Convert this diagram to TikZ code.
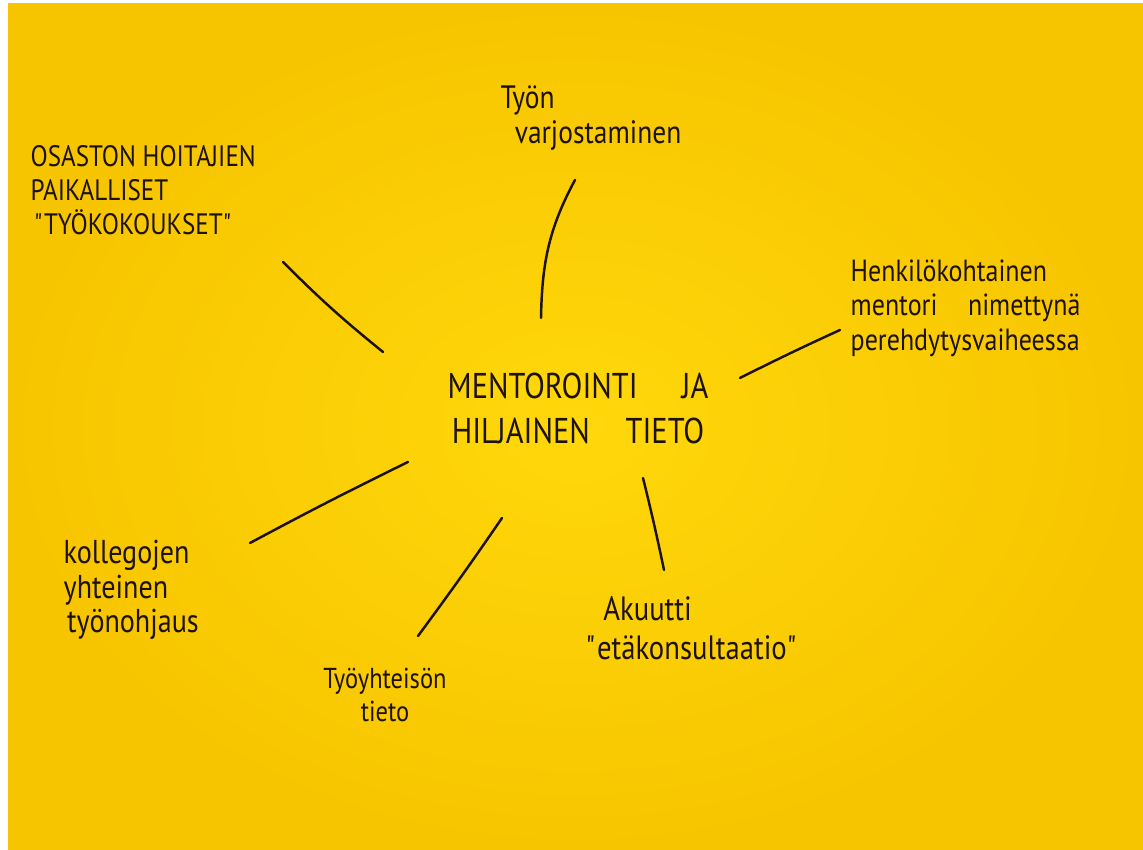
\documentclass[tikz,border=0pt]{standalone}
\usepackage{fontspec}
\setmainfont[FakeStretch=0.85]{PT Sans}
\usepackage{tikz}
\definecolor{paperhi}{HTML}{FFD80A}
\definecolor{paperlo}{HTML}{F7C500}
\definecolor{ink}{HTML}{1E1208}

\begin{document}
\begin{tikzpicture}[
    hub/.style={text=ink, align=center, font=\fontsize{10.2}{12.8}\selectfont},
    leaf/.style={text=ink, align=left, inner sep=0pt, font=\fontsize{9.2}{10.2}\selectfont},
    link/.style={draw=ink, line width=0.7pt, line cap=round}
]
    
                \useasboundingbox (0,0) rectangle (11.43,8.50);
                \shade[inner color=paperhi, outer color=paperlo] (0.08,0) rectangle (11.43,8.46);
    
                \node[hub] (H) at (5.78,4.42) {MENTOROINTI\quad\ JA\\HILJAINEN\quad TIETO};
                \node[leaf, anchor=west] (V) at (5.00,7.32) {Työn\\\hspace{4pt}varjostaminen};
                \node[leaf, anchor=west, font=\fontsize{8.4}{9.6}\selectfont] (O) at (0.30,6.60) {OSASTON HOITAJIEN\\PAIKALLISET\\\hspace{1pt}\textquotedbl TYÖKOKOUKSET\textquotedbl};
                \node[leaf, anchor=west, font=\fontsize{8.7}{9.8}\selectfont] (P) at (8.50,5.42) {Henkilökohtainen\\mentori\quad nimettynä\\perehdytysvaiheessa};
                \node[leaf, anchor=west, font=\fontsize{9.4}{9.8}\selectfont] (K) at (0.63,2.60) {kollegojen\\yhteinen\\\hspace{1pt}työnohjaus};
                \node[leaf, anchor=center, align=center, font=\fontsize{8.2}{9.2}\selectfont] (T) at (3.85,1.55) {Työyhteisön\\tieto};
                \node[leaf, anchor=west, font=\fontsize{9.6}{11}\selectfont] (A) at (5.85,2.22) {\hspace{5pt}Akuutti\\\textquotedbl etäkonsultaatio\textquotedbl};
    
                \coordinate (H-n) at (5.41,5.32);
                \coordinate (V-s) at (5.75,6.70);
                \coordinate (H-nw) at (3.83,4.98);
                \coordinate (O-se) at (2.83,5.88);
                \coordinate (H-e) at (7.40,4.72);
                \coordinate (P-w) at (8.40,5.20);
                \coordinate (H-sw) at (4.08,3.88);
                \coordinate (K-ne) at (2.50,3.07);
                \coordinate (H-s) at (5.02,3.32);
                \coordinate (T-n) at (4.18,2.14);
                \coordinate (H-se) at (6.43,3.72);
                \coordinate (A-n) at (6.64,2.80);
    
                \draw[link] (H-n) .. controls (5.42,5.85) and (5.48,6.20) .. (V-s);
                \draw[link] (H-nw) to[bend left=3] (O-se);
                \draw[link] (H-e) to[bend left=1] (P-w);
                \draw[link] (H-sw) to[bend right=1] (K-ne);
                \draw[link] (H-s) to[bend left=1] (T-n);
                \draw[link] (H-se) to[bend left=1] (A-n);
        
            \end{tikzpicture}
\end{document}
